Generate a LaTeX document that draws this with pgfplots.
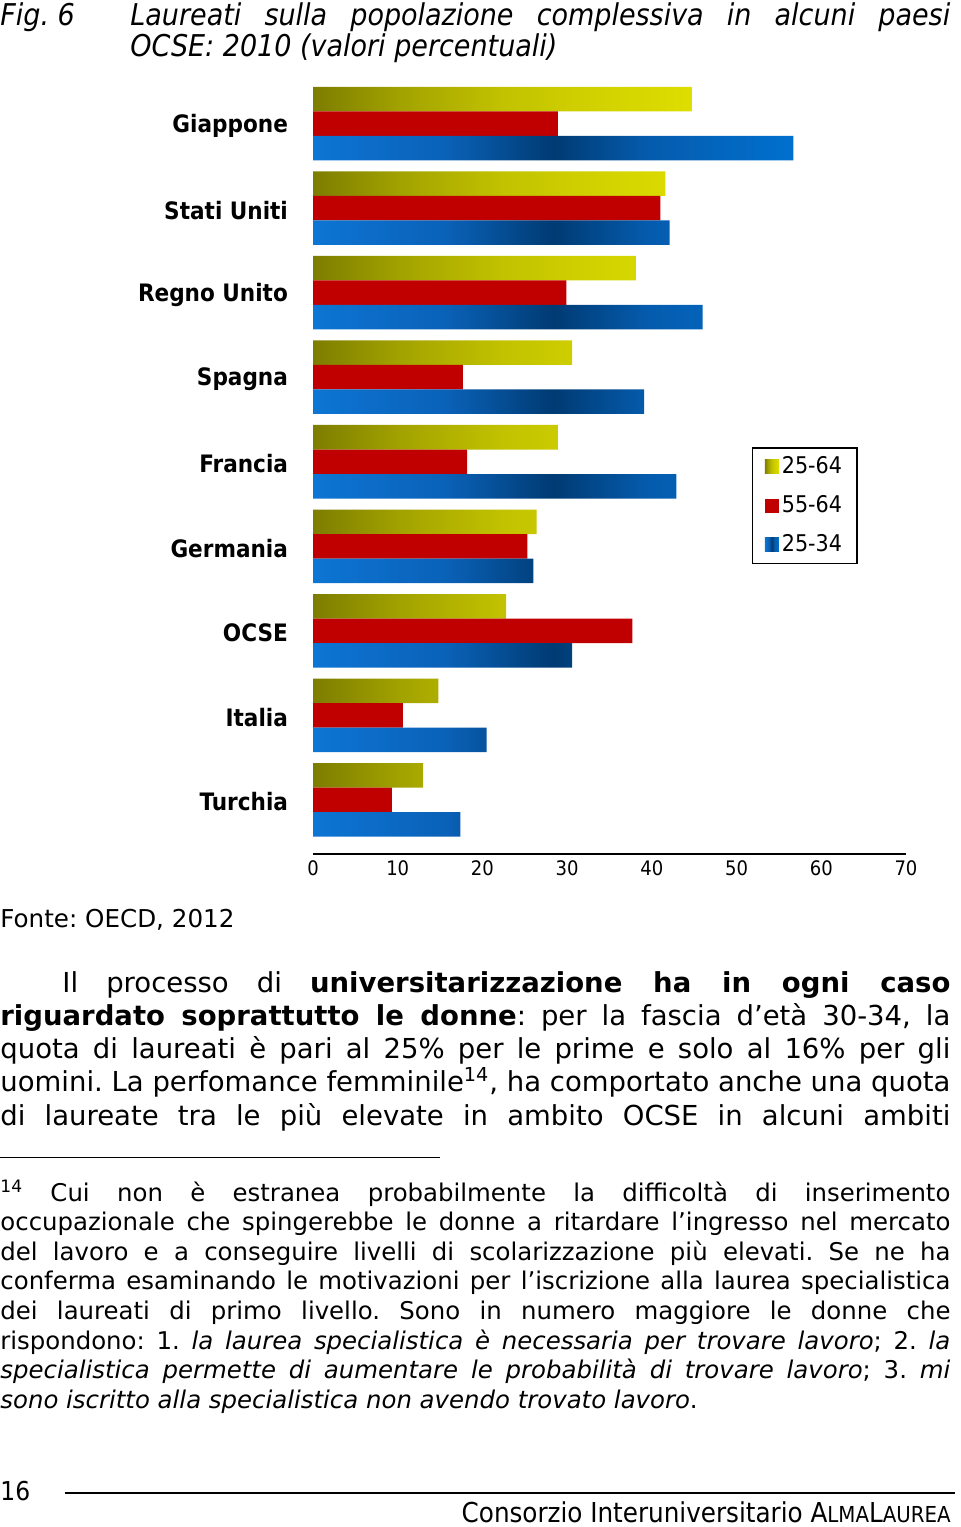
\documentclass[border=0pt]{standalone}
\usepackage{fontspec}
\setmainfont{DejaVu Sans}
\newfontfamily\cond{DejaVu Sans Condensed}
\usepackage{pgfplots}
\pgfplotsset{compat=1.18}
\definecolor{barred}{RGB}{192,0,0}
\pgfdeclarehorizontalshading{ygrad}{100bp}{%
  rgb(0bp)=(0.49,0.49,0);
  rgb(25bp)=(0.49,0.49,0);
  rgb(37bp)=(0.64,0.64,0);
  rgb(50bp)=(0.76,0.76,0);
  rgb(62bp)=(0.82,0.82,0);
  rgb(75bp)=(0.87,0.87,0);
  rgb(100bp)=(0.87,0.87,0)}
\pgfdeclarehorizontalshading{bgrad}{100bp}{%
  rgb(0bp)=(0.05,0.46,0.83);
  rgb(25bp)=(0.05,0.46,0.83);
  rgb(39bp)=(0.04,0.38,0.72);
  rgb(50bp)=(0.0,0.23,0.45);
  rgb(60bp)=(0.02,0.36,0.68);
  rgb(75bp)=(0.0,0.44,0.81);
  rgb(100bp)=(0.0,0.44,0.81)}
\pgfplotsset{mylegend/.style={legend image code/.code={\path[##1] (0pt,-3.5pt) rectangle (7pt,3.5pt);}}}
\frenchspacing
\begin{document}
\begin{tikzpicture}[x=0.5pt,y=0.5pt]
\useasboundingbox (0,0) rectangle (960,-1527);
% title
\node[anchor=base west, inner sep=0] at (0,-25) {\cond\itshape\fontsize{15}{16.5}\selectfont Fig. 6};
\node[anchor=base west, inner sep=0] at (130,-25) {\begin{minipage}[t]{410pt}\cond\itshape\fontsize{15}{14.5}\selectfont\tolerance=10000 \hyphenpenalty=10000
Laureati sulla popolazione complessiva in alcuni paesi\linebreak
OCSE: 2010 (valori percentuali)\end{minipage}};
% chart
\begin{axis}[
  at={(156.5pt,-427pt)}, anchor=south west, scale only axis,
  width=296.5pt, height=392.25pt,
  xmin=0, xmax=70, ymin=-0.64, ymax=8.64,
  xbar, bar width=0.29,
  axis lines*=left,
  y axis line style={draw=none},
  x axis line style={line width=1pt},
  major tick length=0pt,
  xtick={0,10,...,70},
  ytick={0,...,8},
  yticklabels={Turchia,Italia,OCSE,Germania,Francia,Spagna,Regno Unito,Stati Uniti,Giappone},
  yticklabel style={font=\cond\bfseries\fontsize{12}{14}\selectfont, xshift=-9pt, yshift=-1pt},
  xticklabel style={font=\cond\fontsize{10}{12}\selectfont},
  /pgf/number format/assume math mode=true,
  legend style={at={(axis cs:51.85,4.17)}, anchor=north west, draw=black, line width=0.6pt,
    font=\cond\fontsize{11.5}{13}\selectfont, row sep=6.5pt, inner xsep=6pt, inner ysep=2.8pt,
    nodes={inner sep=1.5pt, text height=8.5pt, text depth=1.5pt}},
  legend cell align=left,
]
\addplot[draw=none, shading=ygrad, shading angle=0, bar shift=0.29, mylegend]
  coordinates {(13.0,0) (14.8,1) (22.8,2) (26.4,3) (28.9,4) (30.6,5) (38.1,6) (41.6,7) (44.7,8)};
\addplot[draw=none, fill=barred, bar shift=0, mylegend]
  coordinates {(9.3,0) (10.6,1) (37.7,2) (25.3,3) (18.2,4) (17.7,5) (29.9,6) (41.0,7) (28.9,8)};
\addplot[draw=none, shading=bgrad, shading angle=0, bar shift=-0.29, mylegend]
  coordinates {(17.4,0) (20.5,1) (30.6,2) (26.0,3) (42.9,4) (39.1,5) (46.0,6) (42.1,7) (56.7,8)};
\legend{25-64,55-64,25-34}
\end{axis}
% source
\node[anchor=base west, inner sep=0] at (0,-927) {\fontsize{12.3}{14}\selectfont Fonte: OECD, 2012};
% body
\node[anchor=base west, inner sep=0] at (0,-992) {\begin{minipage}[t]{475pt}\fontsize{13.75}{16.65}\selectfont\parfillskip=0pt \tolerance=10000 \hyphenpenalty=10000 \exhyphenpenalty=10000
\hspace*{31pt}Il processo di \textbf{universitarizzazione ha in ogni caso}\linebreak
\textbf{riguardato soprattutto le donne}: per la fascia d’età 30-34, la\linebreak
quota di laureati è pari al 25\% per le prime e solo al 16\% per gli\linebreak
uomini. La perfomance femminile\textsuperscript{14}, ha comportato anche una quota\linebreak
di laureate tra le più elevate in ambito OCSE in alcuni ambiti\end{minipage}};
% footnote rule
\draw[line width=0.5pt] (0,-1157) -- (440,-1157);
% footnote
\node[anchor=base west, inner sep=0] at (0,-1201) {\begin{minipage}[t]{475pt}\fontsize{12.2}{14.8}\selectfont\tolerance=10000 \hyphenpenalty=10000 \exhyphenpenalty=10000
\textsuperscript{14} Cui non è estranea probabilmente la difficoltà di inserimento\linebreak
occupazionale che spingerebbe le donne a ritardare l’ingresso nel mercato\linebreak
del lavoro e a conseguire livelli di scolarizzazione più elevati. Se ne ha\linebreak
conferma esaminando le motivazioni per l’iscrizione alla laurea specialistica\linebreak
dei laureati di primo livello. Sono in numero maggiore le donne che\linebreak
rispondono: 1. \textit{la laurea specialistica è necessaria per trovare lavoro}; 2. \textit{la}\linebreak
\textit{specialistica permette di aumentare le probabilità di trovare lavoro}; 3. \textit{mi}\linebreak
\textit{sono iscritto alla specialistica non avendo trovato lavoro}.\end{minipage}};
% footer
\node[anchor=base west, inner sep=0] at (0,-1500) {\cond\fontsize{13}{14}\selectfont 16};
\draw[line width=1pt] (65,-1493) -- (955,-1493);
\node[anchor=base east, inner sep=0] at (951,-1522) {\cond\fontsize{13.7}{14}\selectfont Consorzio Interuniversitario A{\fontsize{11}{12}\selectfont LMA}L{\fontsize{11}{12}\selectfont AUREA}};
\end{tikzpicture}
\end{document}
